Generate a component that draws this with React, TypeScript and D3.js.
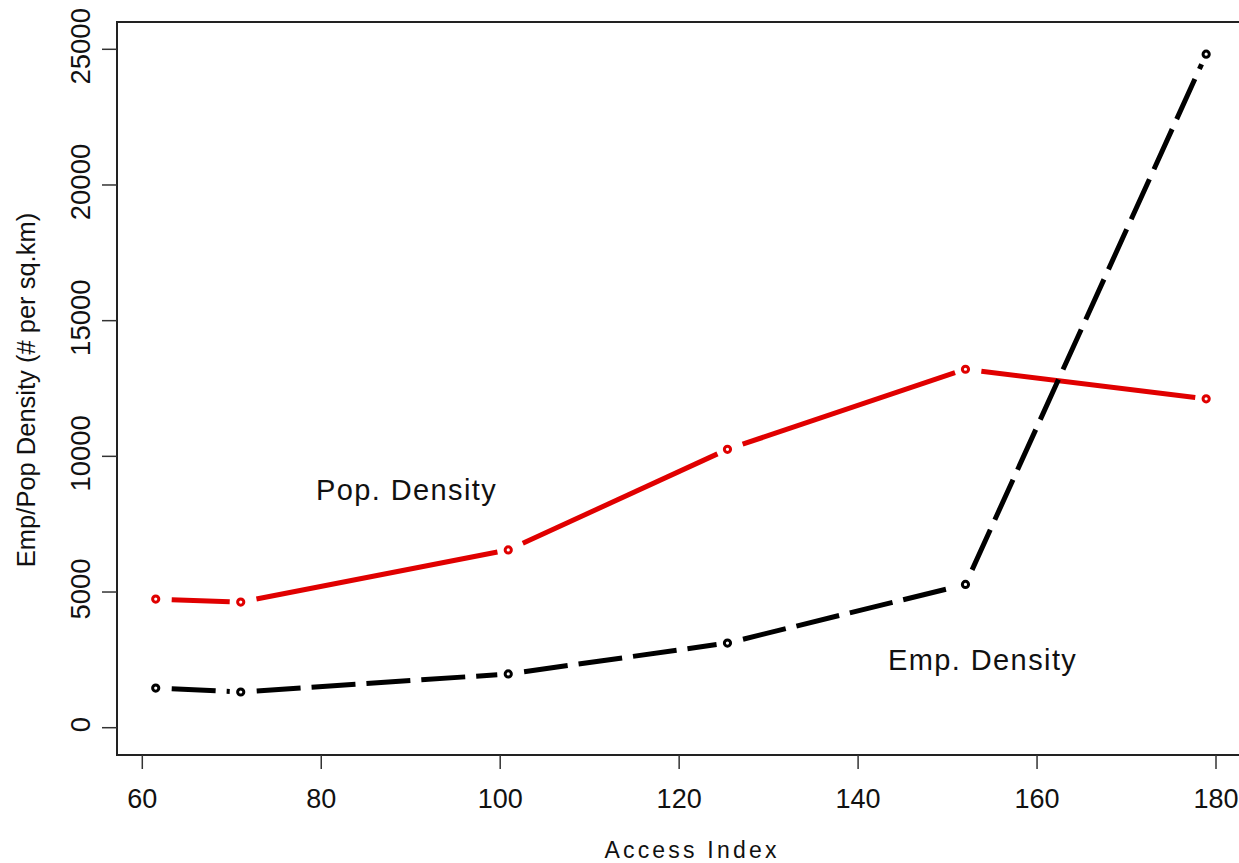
import React from "react";
import * as d3 from "d3";

const accessIndex = [61.5, 71, 100.9, 125.4, 152, 178.9];
const popDensity = [4740, 4630, 6550, 10260, 13210, 12120];
const empDensity = [1460, 1315, 1980, 3120, 5280, 24820];
const xTicks = [60, 80, 100, 120, 140, 160, 180];
const yTicks = [0, 5000, 10000, 15000, 20000, 25000];

const W = 1239;
const H = 863;
const FONT = "'Liberation Sans', Arial, Helvetica, sans-serif";

const x = d3.scaleLinear().domain([60, 180]).range([142.3, 1216]);
const y = d3.scaleLinear().domain([0, 25000]).range([727.7, 49.3]);

const frame = { left: 117, top: 22, right: 1260, bottom: 755 };

function segments(xs: number[], ys: number[], gapStart: number, gapEnd: number) {
  const segs: { x1: number; y1: number; x2: number; y2: number }[] = [];
  for (let i = 0; i < xs.length - 1; i++) {
    const ax = x(xs[i]), ay = y(ys[i]);
    const bx = x(xs[i + 1]), by = y(ys[i + 1]);
    const dx = bx - ax, dy = by - ay;
    const len = Math.hypot(dx, dy);
    const ux = dx / len, uy = dy / len;
    segs.push({
      x1: ax + ux * gapStart,
      y1: ay + uy * gapStart,
      x2: bx - ux * gapEnd,
      y2: by - uy * gapEnd,
    });
  }
  return segs;
}

function Series({ ys, color, dash }: { ys: number[]; color: string; dash?: string }) {
  const segs = segments(accessIndex, ys, 16, 11);
  return (
    <g>
      {segs.map((s, i) => (
        <line
          key={"s" + i}
          x1={s.x1}
          y1={s.y1}
          x2={s.x2}
          y2={s.y2}
          stroke={color}
          strokeWidth={5}
          strokeDasharray={dash}
          strokeLinecap="butt"
        />
      ))}
      {accessIndex.map((v, i) => (
        <circle
          key={"p" + i}
          cx={x(v)}
          cy={y(ys[i])}
          r={3.1}
          fill="white"
          stroke={color}
          strokeWidth={3}
        />
      ))}
    </g>
  );
}

export default function App() {
  return (
    <svg
      width={W}
      height={H}
      style={{ position: "absolute", left: 0, top: 0, background: "white" }}
      fontFamily={FONT}
    >
      <rect x={0} y={0} width={W} height={H} fill="white" />
      {/* frame */}
      <path
        d={`M${frame.right},${frame.top}H${frame.left}V${frame.bottom}H${frame.right}`}
        fill="none"
        stroke="#222"
        strokeWidth={2}
      />
      {/* x ticks */}
      {xTicks.map((t) => (
        <g key={"xt" + t}>
          <line x1={x(t)} x2={x(t)} y1={frame.bottom} y2={frame.bottom + 14} stroke="#333" strokeWidth={1.5} />
          <text x={x(t)} y={808} textAnchor="middle" fontSize={27} fill="#111">
            {t}
          </text>
        </g>
      ))}
      {/* y ticks */}
      {yTicks.map((t) => (
        <g key={"yt" + t}>
          <line x1={frame.left - 15} x2={frame.left} y1={y(t)} y2={y(t)} stroke="#333" strokeWidth={1.5} />
          <text
            transform={`translate(90,${y(t) - 3}) rotate(-90)`}
            textAnchor="middle"
            fontSize={27.5}
            fill="#111"
          >
            {t}
          </text>
        </g>
      ))}
      {/* axis titles */}
      <text x={692} y={858} textAnchor="middle" fontSize={23} letterSpacing={3.2} fill="#111">
        Access Index
      </text>
      <text
        transform={`translate(35,390) rotate(-90)`}
        textAnchor="middle"
        fontSize={25.5}
        fill="#111"
      >
        Emp/Pop Density (# per sq.km)
      </text>
      {/* series */}
      <Series ys={popDensity} color="#e00000" />
      <Series ys={empDensity} color="#000" dash="44 11" />
      {/* annotations */}
      <text x={316} y={500} fontSize={29} letterSpacing={1.4} fill="#111">
        Pop.  Density
      </text>
      <text x={888} y={670} fontSize={29} letterSpacing={1.4} fill="#111">
        Emp.  Density
      </text>
    </svg>
  );
}
